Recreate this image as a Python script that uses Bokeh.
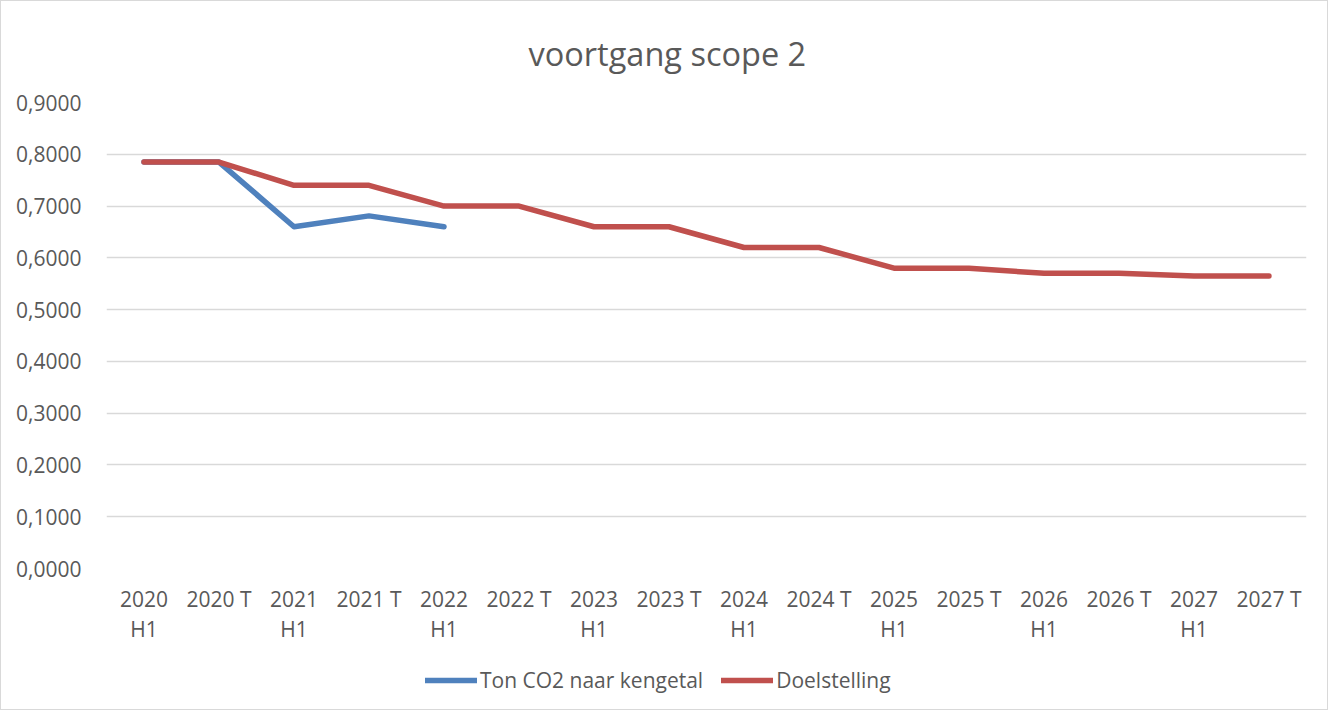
from bokeh.plotting import figure
from bokeh.layouts import column
from bokeh.models import FactorRange, Legend, LegendItem, CustomJSTickFormatter, FixedTicker, Range1d
from bokeh.embed import file_html
from bokeh.resources import INLINE

categories = ["2020\nH1", "2020 T", "2021\nH1", "2021 T", "2022\nH1", "2022 T",
              "2023\nH1", "2023 T", "2024\nH1", "2024 T", "2025\nH1", "2025 T",
              "2026\nH1", "2026 T", "2027\nH1", "2027 T"]
actual = [0.785, 0.785, 0.660, 0.681, 0.660]
target = [0.785, 0.785, 0.740, 0.740, 0.700, 0.700, 0.660, 0.660,
          0.620, 0.620, 0.580, 0.580, 0.570, 0.570, 0.565, 0.565]
y_ticks = [0.0, 0.1, 0.2, 0.3, 0.4, 0.5, 0.6, 0.7, 0.8, 0.9]
series_names = ["Ton CO2 naar kengetal", "Doelstelling"]
series_colors = ["#4F81BD", "#C0504D"]

FONT = "Open Sans"
TXT = "#595959"
W = 1326

p = figure(x_range=FactorRange(*categories, range_padding=0),
           y_range=Range1d(0, 0.9),
           width=W, height=650, output_backend="svg", toolbar_location=None,
           min_border_left=105, min_border_right=21, min_border_top=99, min_border_bottom=83)

p.title.text = "voortgang scope 2"
p.title.align = "left"
p.title.offset = 422
p.title.standoff = 54
p.title.text_font = FONT
p.title.text_font_size = "32.5px"
p.title.text_font_style = "normal"
p.title.text_color = TXT
p.outline_line_color = None

r1 = p.line(categories[:len(actual)], actual, line_color=series_colors[0], line_width=5.5,
            line_cap="round", line_join="round")
r2 = p.line(categories, target, line_color=series_colors[1], line_width=5.5,
            line_cap="round", line_join="round")

p.xgrid.grid_line_color = None
p.ygrid.grid_line_color = "#d9d9d9"
p.ygrid.grid_line_width = 1.5

p.yaxis.ticker = FixedTicker(ticks=y_ticks)
p.yaxis.formatter = CustomJSTickFormatter(code="return tick.toFixed(4).replace('.', ',');")
for ax in (p.xaxis[0], p.yaxis[0]):
    ax.axis_line_color = None
    ax.major_tick_line_color = None
    ax.minor_tick_line_color = None
    ax.major_label_text_font = FONT
    ax.major_label_text_font_size = "21px"
    ax.major_label_text_color = TXT
p.yaxis.major_label_standoff = 19
p.xaxis.major_label_standoff = 10
p.xaxis.major_label_text_line_height = 1.1
p.xaxis.major_label_orientation = "horizontal"

# legend strip below the chart (its series lie outside its visible range; only the legend shows)
pl = figure(x_range=FactorRange(*categories, range_padding=0), y_range=Range1d(5, 6),
            width=W, height=58,
            output_backend="svg", toolbar_location=None, x_axis_type=None, y_axis_type=None,
            min_border_left=105, min_border_right=21, min_border_top=0, min_border_bottom=0)
pl.outline_line_color = None
pl.xgrid.visible = False
pl.ygrid.visible = False
l1 = pl.line(categories[:len(actual)], actual, line_color=series_colors[0], line_width=5.5, line_cap="round")
l2 = pl.line(categories, target, line_color=series_colors[1], line_width=5.5, line_cap="round")
legend = Legend(items=[LegendItem(label=series_names[0], renderers=[l1]),
                       LegendItem(label=series_names[1], renderers=[l2])],
                orientation="horizontal", location=(319, 15),
                border_line_color=None, background_fill_alpha=0,
                label_text_font=FONT, label_text_font_size="21px", label_text_color=TXT,
                glyph_width=52, spacing=18, label_standoff=3, padding=0, margin=0)
pl.add_layout(legend, "center")

layout = column(p, pl, spacing=0)
layout.styles = {"border": "1px solid #d9d9d9"}

open("out.html", "w").write(file_html(layout, INLINE))
